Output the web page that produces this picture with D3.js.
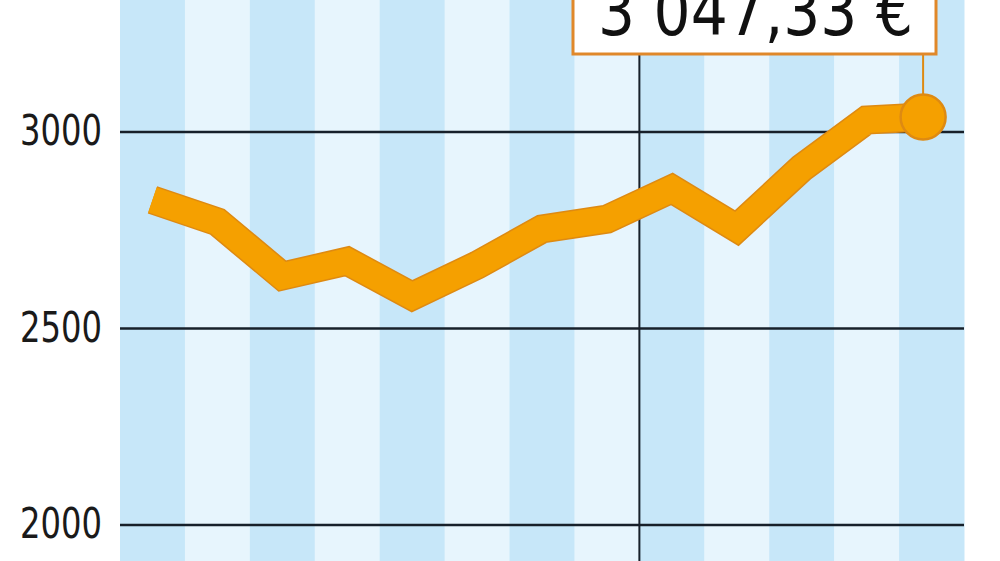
<!DOCTYPE html>
<html>
<head>
<meta charset="utf-8">
<script src="https://cdn.jsdelivr.net/npm/d3@7"></script>
<style>
  body { margin: 0; background: #fff; }
  svg { display: block; }
</style>
</head>
<body>
<div id="chart"></div>
<script>
// monthly stripes, one point per month (last one mid-month)
const months = ['mai', 'juin', 'juil.', 'août', 'sept.', 'oct.', 'nov.', 'déc.', 'janv.', 'févr.', 'mars', 'avr.', 'mai'];
const pointPos = [0.5, 1.5, 2.5, 3.5, 4.5, 5.5, 6.5, 7.5, 8.5, 9.5, 10.5, 11.5, 12.37];
const values = [2826, 2770, 2632, 2670, 2581, 2660, 2752, 2777, 2854, 2754, 2907, 3029, 3037];
const yTicks = [2000, 2500, 3000];
const yearStart = 8; // index of 'janv.'
const lastLabel = '3 047,33 €';

const width = 1000;
const height = 561;
const font = '"DejaVu Sans Condensed", "Liberation Sans", sans-serif';

const svg = d3
  .select('#chart')
  .append('svg')
  .attr('width', width)
  .attr('height', height);

const x = d3.scaleLinear().domain([0, months.length]).range([120, 964]);
const y = d3.scaleLinear().domain([2000, 3000]).range([524.5, 131.5]);

// background stripes
svg
  .selectAll('rect.stripe')
  .data(months)
  .enter()
  .append('rect')
  .attr('class', 'stripe')
  .attr('x', (d, i) => x(i))
  .attr('y', 0)
  .attr('width', x(1) - x(0) + 0.5)
  .attr('height', height)
  .attr('fill', (d, i) => (i % 2 === 0 ? '#c7e7f9' : '#e7f5fd'));

// y axis with grid lines
const yAxis = d3
  .axisLeft(y)
  .tickValues(yTicks)
  .tickFormat(d3.format('d'))
  .tickSize(-(x.range()[1] - x.range()[0]))
  .tickPadding(18);

const gy = svg
  .append('g')
  .attr('transform', 'translate(' + x.range()[0] + ',0)')
  .call(yAxis);
gy.select('.domain').remove();
gy.selectAll('line').attr('stroke', '#17202a').attr('stroke-width', 2.6);
gy.selectAll('text')
  .attr('fill', '#1a1a1a')
  .attr('textLength', 82)
  .attr('lengthAdjust', 'spacingAndGlyphs')
  .style('font-family', font)
  .style('font-size', '42px');

// start of year line
svg
  .append('line')
  .attr('x1', x(yearStart))
  .attr('x2', x(yearStart))
  .attr('y1', 0)
  .attr('y2', height)
  .attr('stroke', '#17202a')
  .attr('stroke-width', 2);

const data = values.map((v, i) => ({ pos: pointPos[i], value: v }));
const line = d3
  .line()
  .x((d) => x(d.pos))
  .y((d) => y(d.value));

// thick orange line: darker border under lighter body
svg
  .append('path')
  .datum(data)
  .attr('d', line)
  .attr('fill', 'none')
  .attr('stroke', '#de8a12')
  .attr('stroke-width', 29)
  .attr('stroke-linejoin', 'miter');
svg
  .append('path')
  .datum(data)
  .attr('d', line)
  .attr('fill', 'none')
  .attr('stroke', '#f5a000')
  .attr('stroke-width', 26)
  .attr('stroke-linejoin', 'miter');

const last = data[data.length - 1];

// connector from label box to last point
svg
  .append('line')
  .attr('x1', x(last.pos))
  .attr('x2', x(last.pos))
  .attr('y1', 54)
  .attr('y2', y(last.value) - 20)
  .attr('stroke', '#de8a12')
  .attr('stroke-width', 2);

svg
  .append('circle')
  .attr('cx', x(last.pos))
  .attr('cy', y(last.value))
  .attr('r', 22.5)
  .attr('fill', '#f5a000')
  .attr('stroke', '#de8a12')
  .attr('stroke-width', 2.5);

// value label box
svg
  .append('rect')
  .attr('x', 573)
  .attr('y', -20)
  .attr('width', 363)
  .attr('height', 74)
  .attr('fill', '#fff')
  .attr('stroke', '#e0882a')
  .attr('stroke-width', 3);

svg
  .append('text')
  .attr('x', 598)
  .attr('y', 35)
  .attr('fill', '#111')
  .attr('textLength', 315)
  .attr('lengthAdjust', 'spacingAndGlyphs')
  .style('font-family', font)
  .style('font-size', '68px')
  .text(lastLabel);
</script>
</body>
</html>
